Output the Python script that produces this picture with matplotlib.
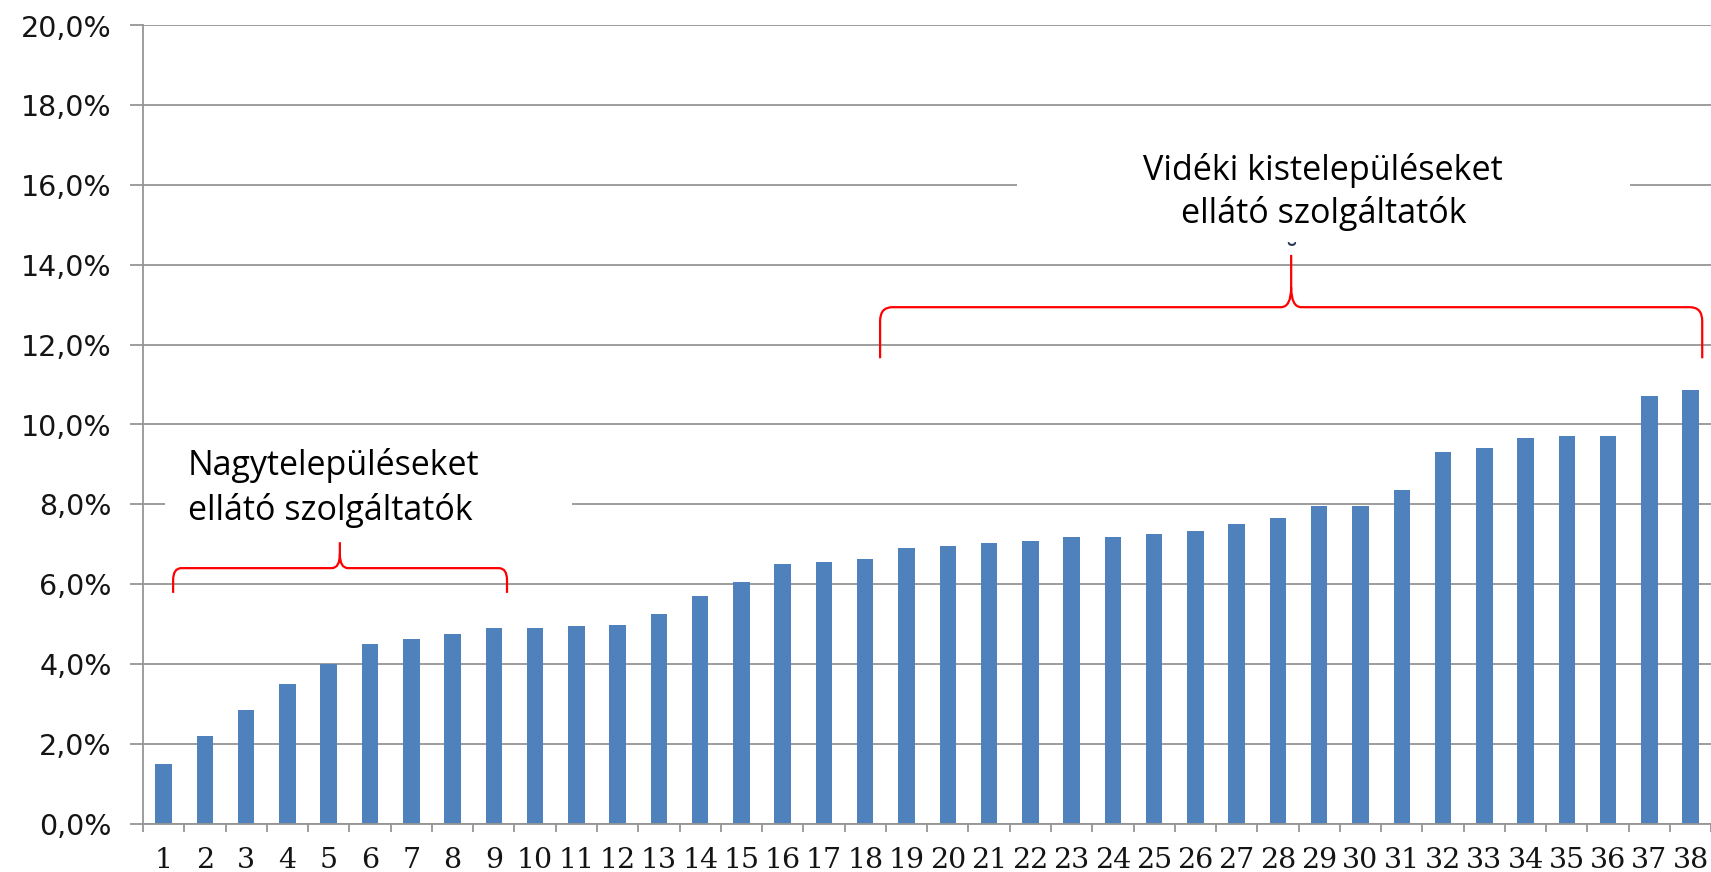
import matplotlib
matplotlib.use("Agg")
import matplotlib.pyplot as plt
from matplotlib.path import Path
from matplotlib.patches import PathPatch, Rectangle
from matplotlib.ticker import FuncFormatter, FixedLocator

# ---- data ----
categories = [str(i) for i in range(1, 39)]
values = [1.48, 2.19, 2.85, 3.50, 3.99, 4.50, 4.62, 4.76, 4.89, 4.91,
          4.94, 4.97, 5.26, 5.70, 6.06, 6.51, 6.55, 6.63, 6.91, 6.96,
          7.04, 7.08, 7.18, 7.19, 7.25, 7.33, 7.50, 7.66, 7.95, 7.95,
          8.36, 9.30, 9.41, 9.67, 9.71, 9.72, 10.72, 10.87]
y_ticks = [0, 2, 4, 6, 8, 10, 12, 14, 16, 18, 20]
label_small = ["Nagytelepüléseket", "ellátó szolgáltatók"]
label_rural = ["Vidéki kistelepüléseket", "ellátó szolgáltatók"]

W, H = 1711, 872
fig = plt.figure(figsize=(W / 100, H / 100), dpi=100)
fig.patch.set_facecolor("white")
ax = fig.add_axes([143 / W, (H - 823.5) / H, 1568.3 / W, 798 / H])

x = list(range(1, len(values) + 1))
grid_c = "#959595"
ax.bar(x, values, width=0.40, color="#4F81BD", zorder=2)

ax.set_xlim(0.5, 38.5)
ax.set_ylim(0, 20)
ax.set_yticks(y_ticks)
ax.yaxis.set_major_formatter(FuncFormatter(lambda v, p: f"{v:.1f}".replace(".", ",") + "%"))
ax.set_xticks(x)
ax.set_xticklabels(categories)
ax.xaxis.set_minor_locator(FixedLocator([i + 0.5 for i in range(0, 39)]))

ax.set_axisbelow(True)
ax.yaxis.grid(True, color=grid_c, linewidth=1.3)
for s in ["top", "right"]:
    ax.spines[s].set_visible(False)
for s in ["left", "bottom"]:
    ax.spines[s].set_color(grid_c)
    ax.spines[s].set_linewidth(1.3)

ax.tick_params(axis="y", length=9.4, width=1.3, color=grid_c, pad=13,
               labelsize=20.5, labelcolor="#141414")
ax.tick_params(axis="x", which="major", length=0, pad=17, labelsize=20.5,
               labelcolor="#141414")
ax.tick_params(axis="x", which="minor", length=6, width=1.3, color=grid_c)
for t in ax.get_yticklabels():
    t.set_fontfamily("DejaVu Sans")
for t in ax.get_xticklabels():
    t.set_fontfamily("DejaVu Serif")

# white label boxes hiding gridlines
ax.add_patch(Rectangle((1.03, 7.23), 9.87, 2.38, facecolor="white",
                       edgecolor="none", zorder=3))
ax.add_patch(Rectangle((21.68, 14.62), 14.85, 2.76, facecolor="white",
                       edgecolor="none", zorder=3))


def brace(x0, x1, xc, y_end, y_h, y_tip, rx, ry, rcx, rcy):
    verts = [(x0, y_end), (x0, y_h - ry), (x0, y_h), (x0 + rx, y_h),
             (xc - rcx, y_h), (xc, y_h), (xc, y_h + rcy), (xc, y_tip),
             (xc, y_h + rcy), (xc, y_h), (xc + rcx, y_h),
             (x1 - rx, y_h), (x1, y_h), (x1, y_h - ry), (x1, y_end)]
    codes = [Path.MOVETO, Path.LINETO, Path.CURVE3, Path.CURVE3,
             Path.LINETO, Path.CURVE3, Path.CURVE3, Path.LINETO,
             Path.MOVETO, Path.CURVE3, Path.CURVE3,
             Path.LINETO, Path.CURVE3, Path.CURVE3, Path.LINETO]
    ax.add_patch(PathPatch(Path(verts, codes), facecolor="none",
                           edgecolor="#FF0000", linewidth=1.6, zorder=4,
                           clip_on=False, capstyle="butt"))


brace(1.23, 9.32, 5.27, 5.78, 6.40, 7.05, 0.2, 0.3, 0.2, 0.35)
brace(18.36, 38.28, 28.32, 11.66, 12.94, 14.25, 0.3, 0.35, 0.25, 0.5)

# small leftover glyph fragment above the brace tip in the original
ax.text(28.32, 14.03, "˘", fontfamily="DejaVu Sans", fontsize=20,
        ha="center", va="baseline", color="#2b3a55", zorder=5)

ann_font = "Open Sans"
t1 = ax.text(1.59, 8.73, label_small[0], fontfamily=ann_font,
             fontsize=20, ha="left", va="baseline", zorder=5)
t2 = ax.text(1.59, 7.61, label_small[1], fontfamily=ann_font,
             fontsize=20, ha="left", va="baseline", zorder=5)
t3 = ax.text(29.1, 16.12, label_rural[0], fontfamily=ann_font,
             fontsize=20, ha="center", va="baseline", zorder=5)
t4 = ax.text(29.1, 15.04, label_rural[1], fontfamily=ann_font,
             fontsize=20, ha="center", va="baseline", zorder=5)

# size the annotation text to the measured widths of the reference
renderer = fig.canvas.get_renderer()
w1 = t1.get_window_extent(renderer).width
s_small = 20 * 292 / w1
t1.set_fontsize(s_small)
t2.set_fontsize(s_small)
w3 = t3.get_window_extent(renderer).width
s_rural = 20 * 359 / w3
t3.set_fontsize(s_rural)
t4.set_fontsize(s_rural)

fig.savefig("out.png", dpi=100, facecolor="white")
